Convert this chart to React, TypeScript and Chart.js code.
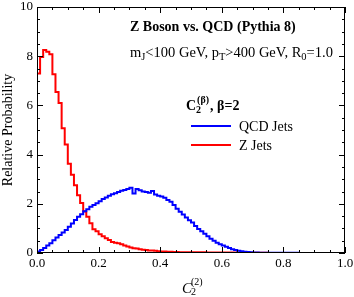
import React, { useEffect, useRef } from 'react';
import { Chart, registerables } from 'chart.js';

Chart.register(...registerables);

// ---------- data ----------
const BIN_WIDTH = 0.01;

const qcdJets = [
  0.02, 0.06, 0.12, 0.2, 0.3, 0.4, 0.52, 0.63, 0.73, 0.83,
  0.94, 1.07, 1.2, 1.34, 1.47, 1.58, 1.7, 1.78, 1.88, 1.95,
  2.02, 2.1, 2.2, 2.26, 2.33, 2.39, 2.43, 2.48, 2.53, 2.56,
  2.6, 2.65, 2.42, 2.6, 2.55, 2.5, 2.48, 2.45, 2.52, 2.38,
  2.33, 2.3, 2.25, 2.15, 2.08, 1.95, 1.8, 1.68, 1.56, 1.44,
  1.33, 1.24, 1.1, 0.98, 0.88, 0.78, 0.68, 0.58, 0.5, 0.42,
  0.36, 0.3, 0.25, 0.2, 0.15, 0.12, 0.09, 0.07, 0.05, 0.04,
  0.03, 0.025, 0.02, 0.015, 0.015, 0.015, 0.015, 0.01, 0.01, 0.01,
  0.01, 0.01, 0.01, 0.01, 0.01, 0.01, 0, 0, 0, 0,
  0, 0, 0, 0, 0, 0, 0, 0, 0, 0,
];

const zJets = [
  4.05, 7.3, 7.97, 8.25, 8.18, 8.08, 7.27, 6.54, 6.1, 5.07,
  4.41, 3.63, 3.18, 2.75, 2.35, 2.03, 1.69, 1.47, 1.21, 0.97,
  0.88, 0.76, 0.68, 0.6, 0.53, 0.45, 0.42, 0.4, 0.36, 0.3,
  0.26, 0.22, 0.19, 0.18, 0.15, 0.13, 0.12, 0.1, 0.1, 0.09,
  0.07, 0.06, 0.06, 0.05, 0.05, 0.04, 0.04, 0.03, 0.03, 0.03,
  0.03, 0.03, 0.03, 0.03, 0.03, 0.03, 0.02, 0.02, 0.02, 0.02,
  0.02, 0.02, 0.02, 0.02, 0.02, 0.02, 0.01, 0.01, 0.01, 0.01,
  0.01, 0.01, 0.01, 0.01, 0.01, 0.01, 0, 0, 0, 0,
  0, 0, 0, 0, 0, 0, 0, 0, 0, 0,
  0, 0, 0, 0, 0, 0, 0, 0, 0, 0,
];

const xTickLabels = ['0.0', '0.2', '0.4', '0.6', '0.8', '1.0'];
const yTickLabels = ['0', '2', '4', '6', '8', '10'];

const seriesNames = ['QCD Jets', 'Z Jets'];
const seriesColors = ['#0000ff', '#ff0000'];

const TITLE = 'Z Boson vs. QCD (Pythia 8)';
const Y_TITLE = 'Relative Probability';

// ---------- helpers ----------
const FONT = "'Liberation Serif', 'Times New Roman', Times, serif";

function toSteps(values: number[]) {
  const pts = values.map((v, i) => ({ x: i * BIN_WIDTH, y: v }));
  pts.push({ x: values.length * BIN_WIDTH, y: values[values.length - 1] });
  return pts;
}

type Run = { text: string; size: number; weight?: string; style?: string; dy?: number; advance?: boolean };

function drawRuns(ctx: CanvasRenderingContext2D, runs: Run[], x: number, y: number) {
  let cx = x;
  for (const r of runs) {
    ctx.font = `${r.style || 'normal'} ${r.weight || 'normal'} ${r.size}px ${FONT}`;
    ctx.fillText(r.text, cx, y + (r.dy || 0));
    if (r.advance !== false) cx += ctx.measureText(r.text).width;
  }
  return cx;
}

const overlayPlugin = {
  id: 'overlay',
  afterDatasetsDraw(chart: any) {
    const { ctx, chartArea: a, scales } = chart;
    const xs = scales.x;
    const ys = scales.y;
    ctx.save();
    ctx.strokeStyle = '#000';
    ctx.lineWidth = 1;
    // frame
    ctx.strokeRect(a.left + 0.5, a.top + 0.5, a.right - a.left - 1, a.bottom - a.top - 1);
    // ticks
    ctx.beginPath();
    for (let i = 0; i <= 20; i++) {
      const v = i * 0.05;
      const px = Math.round(xs.getPixelForValue(v)) + 0.5;
      const len = i % 4 === 0 ? 6 : 3;
      ctx.moveTo(px, a.bottom);
      ctx.lineTo(px, a.bottom - len);
      ctx.moveTo(px, a.top);
      ctx.lineTo(px, a.top + len);
    }
    for (let i = 0; i <= 20; i++) {
      const v = i * 0.5;
      const py = Math.round(ys.getPixelForValue(v)) + 0.5;
      const len = i % 4 === 0 ? 6 : 3;
      ctx.moveTo(a.left, py);
      ctx.lineTo(a.left + len, py);
      ctx.moveTo(a.right, py);
      ctx.lineTo(a.right - len, py);
    }
    ctx.stroke();

    ctx.fillStyle = '#000';
    ctx.textBaseline = 'alphabetic';
    ctx.textAlign = 'left';
    const L = a.left;
    const T = a.top;

    // title
    drawRuns(ctx, [{ text: TITLE, size: 14, weight: 'bold' }], L + 93, T + 24);
    // cuts line
    drawRuns(
      ctx,
      [
        { text: 'm', size: 14.5 },
        { text: 'J', size: 10.5, dy: 3 },
        { text: '<100 GeV, p', size: 14.5 },
        { text: 'T', size: 10.5, dy: 3 },
        { text: '>400 GeV, R', size: 14.5 },
        { text: '0', size: 10.5, dy: 3 },
        { text: '=1.0', size: 14.5 },
      ],
      L + 93,
      T + 50
    );

    // legend title: C_2^(beta), beta=2
    const lx = L + 149;
    const ly = T + 103;
    let cx = drawRuns(ctx, [{ text: 'C', size: 14, weight: 'bold' }], lx, ly);
    drawRuns(ctx, [{ text: '(β)', size: 10, weight: 'bold' }], cx + 1, ly - 7);
    drawRuns(ctx, [{ text: '2', size: 10, weight: 'bold' }], cx, ly + 3);
    ctx.font = `bold 10px ${FONT}`;
    cx = cx + 2 + ctx.measureText('(β)').width;
    drawRuns(ctx, [{ text: ', β=2', size: 14, weight: 'bold' }], cx, ly);

    // legend entries
    const entryY = [T + 119, T + 138];
    for (let i = 0; i < seriesNames.length; i++) {
      ctx.strokeStyle = seriesColors[i];
      ctx.lineWidth = 2;
      ctx.beginPath();
      ctx.moveTo(L + 154, entryY[i]);
      ctx.lineTo(L + 194, entryY[i]);
      ctx.stroke();
      ctx.fillStyle = '#000';
      drawRuns(ctx, [{ text: seriesNames[i], size: 14 }], L + 202, entryY[i] + 5);
    }

    // x-axis title: C_2^(2)
    const tx = (a.left + a.right) / 2 + 1;
    const ty = a.bottom + 40;
    const c2 = drawRuns(ctx, [{ text: 'C', size: 15, style: 'italic' }], tx - 10, ty);
    drawRuns(ctx, [{ text: '(2)', size: 10 }], c2 - 1, ty - 8);
    drawRuns(ctx, [{ text: '2', size: 10 }], c2 - 1, ty + 2);

    ctx.restore();
  },
};

export default function App() {
  const ref = useRef<HTMLCanvasElement | null>(null);

  useEffect(() => {
    document.body.style.margin = '0';
    const canvas = ref.current;
    if (!canvas) return;
    const chart = new Chart(canvas, {
      type: 'line',
      data: {
        datasets: [
          {
            label: seriesNames[0],
            data: toSteps(qcdJets),
            borderColor: seriesColors[0],
            borderWidth: 2,
            pointRadius: 0,
            stepped: 'after',
            fill: false,
          },
          {
            label: seriesNames[1],
            data: toSteps(zJets),
            borderColor: seriesColors[1],
            borderWidth: 2,
            pointRadius: 0,
            stepped: 'after',
            fill: false,
          },
        ],
      },
      options: {
        responsive: false,
        animation: false,
        devicePixelRatio: 1,
        parsing: false,
        layout: { padding: { top: 7, right: 9, left: 0, bottom: 0 } },
        plugins: {
          legend: { display: false },
          tooltip: { enabled: false },
        },
        scales: {
          x: {
            type: 'linear',
            min: 0,
            max: 1,
            grid: { display: false, drawTicks: false },
            border: { display: false },
            ticks: {
              stepSize: 0.2,
              autoSkip: false,
              maxRotation: 0,
              padding: 3,
              color: '#000',
              font: { family: FONT, size: 13 },
              callback: (_v: any, i: number) => xTickLabels[i],
            },
            afterFit: (s: any) => {
              s.height = 44;
              s.paddingLeft = 0;
              s.paddingRight = 0;
            },
          },
          y: {
            type: 'linear',
            min: 0,
            max: 10,
            grid: { display: false, drawTicks: false },
            border: { display: false },
            ticks: {
              stepSize: 2,
              padding: 4,
              color: '#000',
              font: { family: FONT, size: 13 },
              callback: (_v: any, i: number) => yTickLabels[i],
            },
            title: {
              display: true,
              text: Y_TITLE,
              color: '#000',
              font: { family: FONT, size: 14 },
              padding: { top: 0, bottom: 0 },
            },
            afterFit: (s: any) => {
              s.width = 37;
              s.paddingTop = 0;
              s.paddingBottom = 0;
            },
          },
        },
      },
      plugins: [overlayPlugin],
    });
    return () => chart.destroy();
  }, []);

  return (
    <div style={{ width: 354, height: 297, background: '#fff' }}>
      <canvas ref={ref} width={354} height={297} style={{ display: 'block' }} />
    </div>
  );
}
